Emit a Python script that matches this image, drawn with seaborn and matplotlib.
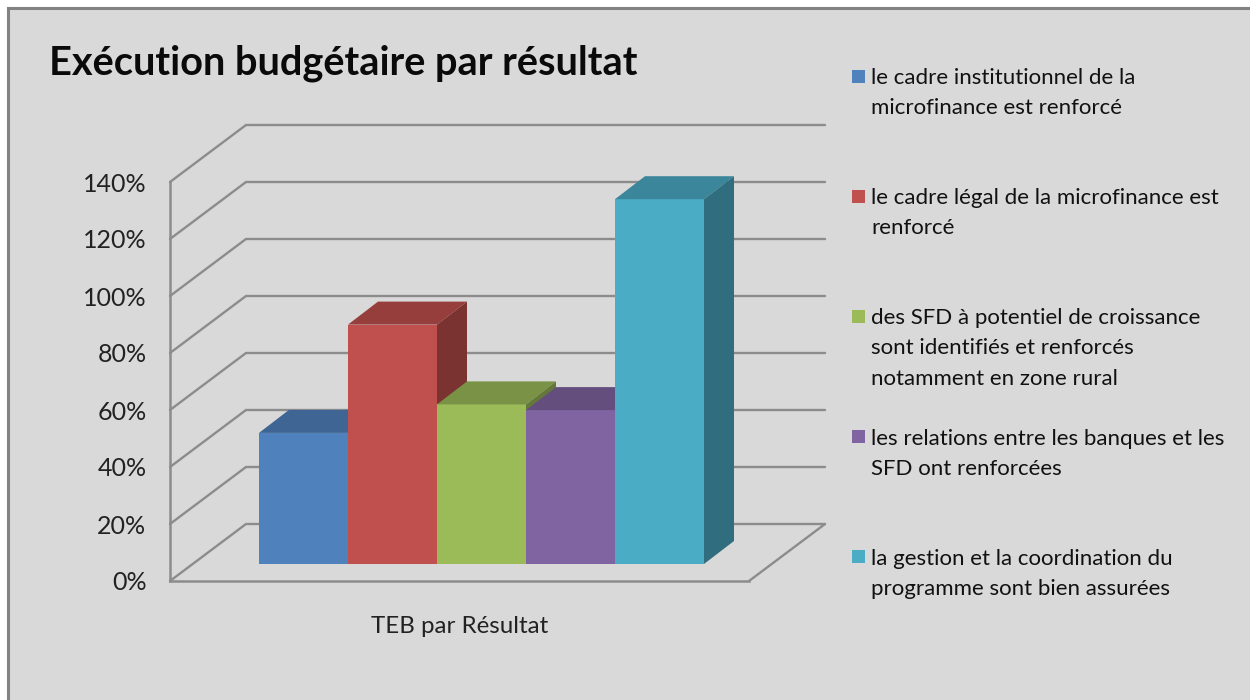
import matplotlib
matplotlib.use("Agg")
from matplotlib import pyplot as plt
from matplotlib.patches import Polygon, Rectangle
from matplotlib.ticker import PercentFormatter
from matplotlib.colors import to_rgb
import pandas as pd
import seaborn as sns

title = "Exécution budgétaire par résultat"
group_label = "TEB par Résultat"
resultats = [
    "le cadre institutionnel de la\nmicrofinance est renforcé",
    "le cadre légal de la microfinance est\nrenforcé",
    "des SFD à potentiel de croissance\nsont identifiés et renforcés\nnotamment en zone rural",
    "les relations entre les banques et les\nSFD ont renforcées",
    "la gestion et la coordination du\nprogramme sont bien assurées",
]
teb = [46, 84, 56, 54, 128]
colors = ["#4f81bd", "#c0504d", "#9bbb59", "#8064a2", "#4bacc6"]
y_ticks = [0, 20, 40, 60, 80, 100, 120, 140]

W, H = 1250, 700
GRID = "#8c8c8c"
TEXT = "#111111"


def shade(color, k):
    return tuple(c * k for c in to_rgb(color))


def px_axes(left, right, top, bottom, **kw):
    # axes placed by pixel box, y pixels counted from the top
    return fig.add_axes([left / W, 1 - bottom / H, (right - left) / W, (bottom - top) / H], **kw)


sns.set_theme(style="white")
plt.rcParams["font.family"] = ["Lato", "DejaVu Sans"]

fig = plt.figure(figsize=(W / 100, H / 100), dpi=100, facecolor="white")

# frame, title and legend live in a pixel-sized axes
ax_bg = px_axes(0, W, 0, H, zorder=0)
ax_bg.set_xlim(0, W)
ax_bg.set_ylim(H, 0)
ax_bg.axis("off")
ax_bg.add_patch(Rectangle((8, 8), W + 20, H + 20, fc="#d9d9d9", ec="#828282", lw=2.2))
ax_bg.text(49, 63, title, fontsize=28.6, fontweight="bold", color="#0a0a0a", va="center", ha="left")

for i, (label, color) in enumerate(zip(resultats, colors)):
    y = 76 + 120.2 * i
    ax_bg.add_patch(Rectangle((852, y - 6.5), 13, 13, fc=color, ec="none"))
    ax_bg.text(871, y - 8, label, fontsize=16.05, color=TEXT, va="top", ha="left", linespacing=1.63)

# walls and floor, front plane of the axis
ax_wall = px_axes(170, 749, 182, 581, zorder=1)
ax_wall.patch.set_visible(False)
ax_wall.set_xlim(0, 1)
ax_wall.set_ylim(0, 140)
depth_x = 76 / 579
depth_y = 20
for t in y_ticks:
    ax_wall.plot([0, depth_x, 1 + depth_x], [t, t + depth_y, t + depth_y], color=GRID, lw=1.7, clip_on=False, solid_joinstyle="miter")
ax_wall.plot([1, 1 + depth_x], [0, depth_y], color=GRID, lw=1.7, clip_on=False)
for side in ["top", "right"]:
    ax_wall.spines[side].set_visible(False)
for side in ["left", "bottom"]:
    ax_wall.spines[side].set_color(GRID)
    ax_wall.spines[side].set_linewidth(1.8)
ax_wall.set_yticks(y_ticks)
ax_wall.yaxis.set_major_formatter(PercentFormatter(decimals=0))
ax_wall.set_xticks([0.5], [group_label])
ax_wall.tick_params(axis="y", length=0, pad=17, labelsize=18, labelcolor="#222222")
ax_wall.tick_params(axis="x", length=0, pad=25, labelsize=17.4, labelcolor="#222222")

# bars sit a little further back than the axis plane
ax_bar = px_axes(259, 704, 165, 564, zorder=2)
ax_bar.patch.set_visible(False)
df = pd.DataFrame({"resultat": resultats, "teb": teb})
sns.barplot(data=df, x="resultat", y="teb", hue="resultat", palette=colors, width=1, dodge=False,
            saturation=1, legend=False, linewidth=0, edgecolor="none", ax=ax_bar)
ax_bar.set_xlim(-0.5, 4.5)
ax_bar.set_ylim(0, 140)
ax_bar.axis("off")

bar_dx = 30 / 89
bar_dy = 23 / 2.85
i = 0
for bar, color in zip(list(ax_bar.patches), colors):
    x0 = bar.get_x()
    x1 = x0 + bar.get_width()
    h = bar.get_height()
    bar.set_zorder(3 + i)
    ax_bar.add_patch(Polygon([(x0, h), (x1, h), (x1 + bar_dx, h + bar_dy), (x0 + bar_dx, h + bar_dy)],
                             fc=shade(color, 0.78), ec="none", zorder=3 + i, clip_on=False))
    ax_bar.add_patch(Polygon([(x1, 0), (x1 + bar_dx, bar_dy), (x1 + bar_dx, h + bar_dy), (x1, h)],
                             fc=shade(color, 0.64), ec="none", zorder=3 + i, clip_on=False))
    i += 1

fig.savefig("out.png", dpi=100)
